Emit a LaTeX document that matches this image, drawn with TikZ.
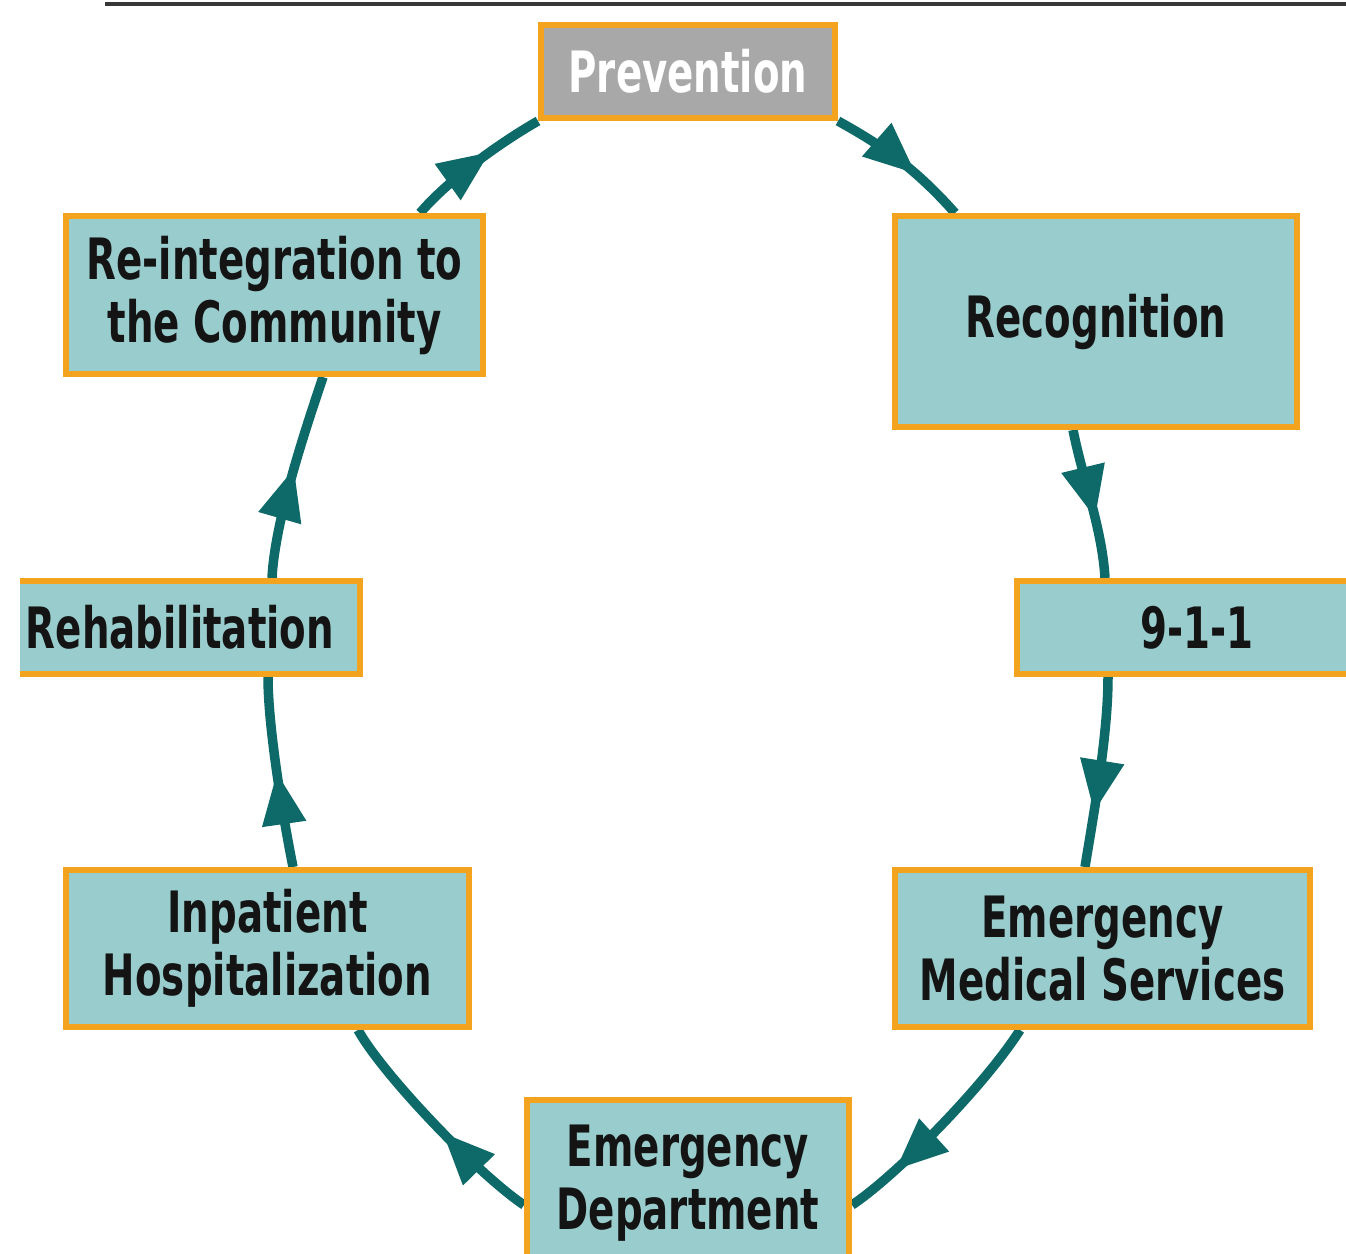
\documentclass[tikz,border=0pt]{standalone}
\usepackage{fontspec}
\newfontfamily\boxfont{DejaVu Sans}[FakeStretch=0.68]
\usetikzlibrary{arrows.meta,decorations.markings,backgrounds,calc}
\definecolor{boxfill}{RGB}{153,204,204}
\definecolor{boxedge}{RGB}{243,163,30}
\definecolor{grayfill}{RGB}{168,168,168}
\definecolor{tealline}{RGB}{14,106,104}
\definecolor{rulegray}{RGB}{55,55,55}
\tikzset{
  stagebox/.style={draw=boxedge, line width=6pt, fill=boxfill, align=center,
    inner sep=0pt, font=\boxfont\bfseries\fontsize{57}{63}\selectfont, text=black!92},
  flow/.style={draw=tealline, line width=9.5pt},
  tipat/.style={postaction={decorate}, decoration={markings,
    mark=at position #1 with {\arrow[tealline]{Triangle[length=52pt,width=42pt]}}}},
}
\begin{document}
\begin{tikzpicture}[x=1pt,y=-1pt]
\useasboundingbox (0,0) rectangle (1346,1253);
\clip (0,0) rectangle (1346,1253);

\coordinate (ruleL) at (105,4);
\coordinate (ruleR) at (1346,4);
\draw[line width=3.5pt, rulegray] (ruleL) -- (ruleR);

\node[stagebox, fill=grayfill, text=white, minimum width=294pt, minimum height=93pt] (prev) at (688,71.5) {Prevention};
\node[stagebox, minimum width=402pt, minimum height=211pt] (rec) at (1096,321.5) {Recognition};
\node[stagebox, minimum width=360pt, minimum height=93pt] (nine) at (1197,627.5) {9-1-1};
\node[stagebox, minimum width=415pt, minimum height=157pt] (ems) at (1102.5,948.5) {Emergency\\Medical Services};
\node[stagebox, minimum width=322pt, minimum height=167pt] (ed) at (688,1183.5) {Emergency\\Department};
\node[stagebox, minimum width=403pt, minimum height=157pt] (inp) at (267.5,948.5) {Inpatient\\Hospitalization};
\begin{scope}
  \clip (20,0) rectangle (1346,1253);
  \node[stagebox, minimum width=360pt, minimum height=93pt] (rehab) at (180,627.5) {Rehabilitation};
\end{scope}
\node[stagebox, minimum width=417pt, minimum height=158pt] (reint) at (274.5,295) {Re-integration to\\the Community};

\begin{scope}[on background layer]
\draw[flow, tipat=0.63] (prev.south east) .. controls +(45,25) and +(-40,-45) .. ($(rec.north west)+(63,0)$);
\draw[flow, tipat=0.6] ($(rec.south west)+(181,0)$) .. controls +(10,50) and +(-3,-50) .. ($(nine.north west)+(91,0)$);
\draw[flow, tipat=0.71] ($(nine.south west)+(94,0)$) .. controls +(0,60) and +(8,-50) .. ($(ems.north west)+(193,0)$);
\draw[flow, tipat=0.77] ($(ems.south west)+(128,0)$) .. controls +(-35,55) and +(45,-30) .. ($(ed.north east)+(0,108)$);
\draw[flow, tipat=0.45] ($(ed.north west)+(0,108)$) .. controls +(-45,-30) and +(25,45) .. ($(inp.south west)+(295,0)$);
\draw[flow, tipat=0.5] ($(inp.north west)+(230,0)$) .. controls +(-10,-50) and +(0,50) .. ($(rehab.south east)+(-95,0)$);
\draw[flow, tipat=0.54] ($(rehab.north east)+(-91,0)$) .. controls +(3,-60) and +(-15,45) .. ($(reint.south west)+(260,0)$);
\draw[flow, tipat=0.62] ($(reint.north west)+(357,0)$) .. controls +(30,-35) and +(-35,20) .. (prev.south west);
\end{scope}
\end{tikzpicture}
\end{document}
